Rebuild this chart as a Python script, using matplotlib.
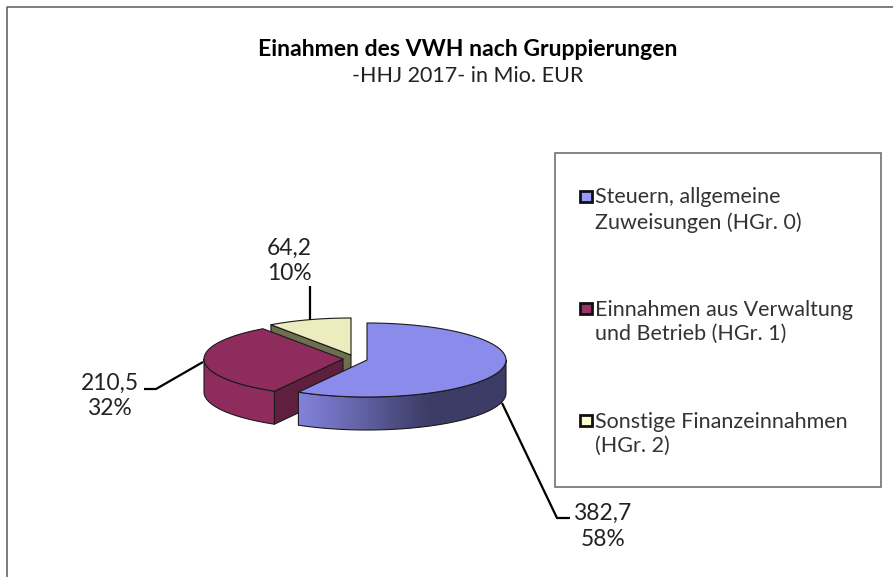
import numpy as np
import matplotlib
matplotlib.use("Agg")
import matplotlib.pyplot as plt
from matplotlib.patches import Polygon, Rectangle

# ---- data
categories = ["Steuern, allgemeine\nZuweisungen (HGr. 0)",
              "Einnahmen aus Verwaltung\nund Betrieb (HGr. 1)",
              "Sonstige Finanzeinnahmen\n(HGr. 2)"]
values = [382.7, 210.5, 64.2]
value_labels = ["382,7", "210,5", "64,2"]
percent_labels = ["58%", "32%", "10%"]
title = "Einahmen des VWH nach Gruppierungen"
subtitle = "-HHJ 2017- in Mio. EUR"

top_colors = ["#8B8BEB", "#8E2D5D", "#ECECBE"]
side_colors = ["#3C3C66", "#8E2D5D", "#ECECBE"]
inner_colors = ["#3C3C66", "#5F2040", "#6E6E50"]
legend_colors = ["#9999FF", "#993366", "#FFFFCC"]

FONT = "Lato"
W, H = 893, 577
fig = plt.figure(figsize=(W / 100, H / 100), dpi=100)
ax = fig.add_axes([0, 0, 1, 1])
ax.set_xlim(0, W)
ax.set_ylim(H, 0)
ax.axis("off")

# ---- frame
ax.plot([7, 7, 893], [577, 7, 7], color="#666666", lw=1.2)

# ---- pie geometry
RX, RY, DEPTH = 139, 37, 33
centers = [(367, 360), (343, 359), (351, 355)]
total = sum(values)
edges = np.cumsum([0] + values) / total * 360


def rim(c, a0, a1, n=160):
    t = np.radians(np.linspace(a0, a1, n))
    return c[0] + RX * np.sin(t), c[1] - RY * np.cos(t)


EDGE = dict(edgecolor="#1A1A1A", linewidth=0.8, joinstyle="round")


def add_wedge(i, z):
    c = centers[i]
    a0, a1 = edges[i], edges[i + 1]
    # inner cut face
    if i in (1, 2):
        x, y = rim(c, a0, a0, 1)
        pts = [(c[0], c[1]), (x[0], y[0]), (x[0], y[0] + DEPTH), (c[0], c[1] + DEPTH)]
        ax.add_patch(Polygon(pts, closed=True, facecolor=inner_colors[i], zorder=z, **EDGE))
    # outer side wall (front half only)
    fa0, fa1 = max(a0, 90), min(a1, 270)
    if fa1 > fa0:
        x, y = rim(c, fa0, fa1)
        pts = np.r_[np.c_[x, y], np.c_[x[::-1], y[::-1] + DEPTH]]
        if i == 0:
            ax.add_patch(Polygon(pts, closed=True, facecolor="none", zorder=z + 0.2, **EDGE))
            grad_x = np.array([299, 320, 360, 400, 430, 510])
            grad_t = np.array([0.0, 0.14, 0.45, 0.78, 1.0, 1.0])
            c0 = np.array(matplotlib.colors.to_rgb("#8282DC"))
            c1 = np.array(matplotlib.colors.to_rgb(side_colors[0]))
            xs = np.linspace(x.min(), x.max(), 256)
            tv = np.interp(xs, grad_x, grad_t)[None, :, None]
            img = c0 * (1 - tv) + c1 * tv
            im = ax.imshow(img, extent=[x.min(), x.max(), pts[:, 1].max(), pts[:, 1].min()],
                           aspect="auto", zorder=z + 0.1)
            im.set_clip_path(Polygon(pts, closed=True, transform=ax.transData))
            ax.set_xlim(0, W)
            ax.set_ylim(H, 0)
        else:
            ax.add_patch(Polygon(pts, closed=True, facecolor=side_colors[i], zorder=z, **EDGE))
    # top face
    x, y = rim(c, a0, a1)
    pts = np.r_[[c], np.c_[x, y]]
    ax.add_patch(Polygon(pts, closed=True, facecolor=top_colors[i], zorder=z + 0.5, **EDGE))


add_wedge(2, 1)
add_wedge(1, 2)
add_wedge(0, 3)

# ---- leader lines
leaders = [[(502, 403), (557, 518), (570, 518)],
           [(203, 362), (156, 389), (144, 389)],
           [(310, 320), (310, 286)]]
for pts in leaders:
    xs, ys = zip(*pts)
    ax.plot(xs, ys, color="black", lw=1.6, zorder=6, solid_capstyle="butt")

# ---- data labels
label_pos = [(603, 526.5), (110, 396), (289, 261)]
for (x, y), v, p in zip(label_pos, value_labels, percent_labels):
    ax.text(x, y, f"{v}\n{p}", ha="center", va="center", fontsize=16.4,
            family=FONT, color="#222222", linespacing=1.28, zorder=7)

# ---- titles
ax.text(468, 49, title, ha="center", va="center", fontsize=16.6, family=FONT,
        fontweight="bold", color="black")
ax.text(467.5, 76, subtitle, ha="center", va="center", fontsize=15.5, family=FONT, color="#222222")

# ---- legend
ax.add_patch(Rectangle((555, 153), 326, 334, facecolor="white", edgecolor="#666666", lw=1.1, zorder=5))
legend_y = [209, 321, 433]
for y, col, lab in zip(legend_y, legend_colors, categories):
    ax.add_patch(Rectangle((580, y - 18), 11.5, 11, facecolor=col, edgecolor="#111111", lw=2.0, zorder=6))
    ax.text(595, y + 1, lab, ha="left", va="center", fontsize=15.5, family=FONT,
            color="#333333", linespacing=1.28, zorder=6)

fig.savefig("out.png", dpi=100)
